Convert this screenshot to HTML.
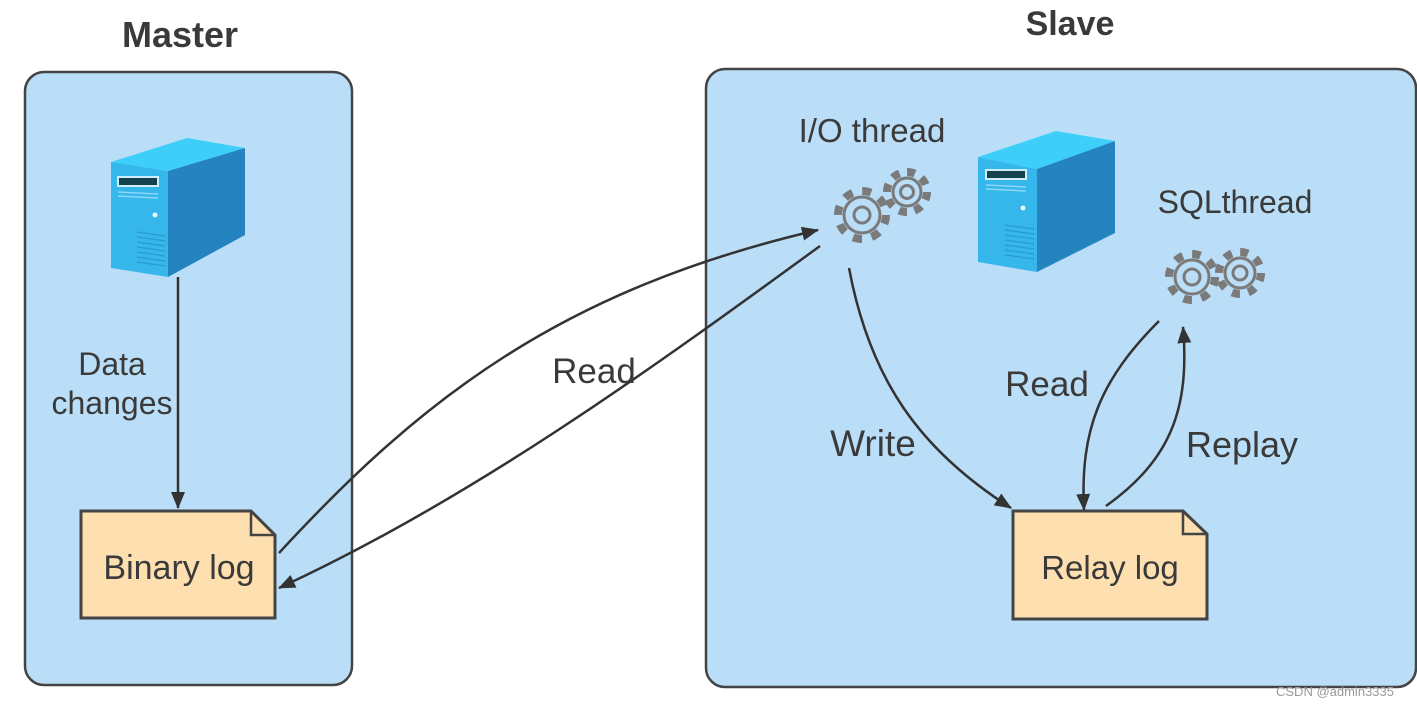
<!DOCTYPE html>
<html><head><meta charset="utf-8"><style>
html,body{margin:0;padding:0;background:#fff;}
svg{display:block;}
text{font-family:"Liberation Sans","DejaVu Sans",sans-serif;fill:#3a3a3a;}
</style></head><body>
<svg width="1417" height="706" viewBox="0 0 1417 706" xmlns="http://www.w3.org/2000/svg">
<defs>
<marker id="ahb" markerWidth="18" markerHeight="14" refX="16" refY="7" orient="auto" markerUnits="userSpaceOnUse">
<path d="M0,0 L17,7 L0,14 z" fill="#333"/>
</marker>
</defs>
<rect x="25" y="72" width="327" height="613" rx="19" fill="#badef8" stroke="#444" stroke-width="2.5"/>
<rect x="706" y="69" width="710" height="618" rx="19" fill="#badef8" stroke="#444" stroke-width="2.5"/>
<text x="180" y="47" font-size="36" font-weight="bold" text-anchor="middle" fill="#333">Master</text>
<text x="1070" y="35" font-size="34" font-weight="bold" text-anchor="middle" fill="#333">Slave</text>

<g>
<polygon points="111,162 187,138 245,148 168,171" fill="#3dcffa"/>
<polygon points="111,162 168,171 168,277 111,268" fill="#35b7ec"/>
<polygon points="168,171 245,148 245,235 168,277" fill="#2583bf"/>
<rect x="118" y="177" width="40" height="9" fill="#15424f" stroke="#cfeefc" stroke-width="2"/>
<line x1="118" y1="192" x2="158" y2="194" stroke="#8ad8f7" stroke-width="1.5"/>
<line x1="118" y1="196" x2="158" y2="198" stroke="#8ad8f7" stroke-width="1.5"/>
<circle cx="155" cy="215" r="2.5" fill="#e8f8ff"/>
<g stroke="#2a9ad0" stroke-width="1.2">
<line x1="137" y1="232" x2="165" y2="236"/><line x1="137" y1="237" x2="165" y2="241"/><line x1="137" y1="242" x2="165" y2="246"/><line x1="137" y1="247" x2="165" y2="251"/><line x1="137" y1="252" x2="165" y2="256"/><line x1="137" y1="257" x2="165" y2="261"/><line x1="137" y1="262" x2="165" y2="266"/>
</g>
</g>
<g>
<polygon points="978,157 1056,131 1115,141 1037,169" fill="#3dcffa"/>
<polygon points="978,157 1037,169 1037,272 978,262" fill="#35b7ec"/>
<polygon points="1037,169 1115,141 1115,233 1037,272" fill="#2583bf"/>
<rect x="986" y="170" width="40" height="9" fill="#15424f" stroke="#cfeefc" stroke-width="2"/>
<line x1="986" y1="185" x2="1026" y2="187" stroke="#8ad8f7" stroke-width="1.5"/>
<line x1="986" y1="189" x2="1026" y2="191" stroke="#8ad8f7" stroke-width="1.5"/>
<circle cx="1023" cy="208" r="2.5" fill="#e8f8ff"/>
<g stroke="#2a9ad0" stroke-width="1.2">
<line x1="1005" y1="225" x2="1034" y2="229"/><line x1="1005" y1="230" x2="1034" y2="234"/><line x1="1005" y1="235" x2="1034" y2="239"/><line x1="1005" y1="240" x2="1034" y2="244"/><line x1="1005" y1="245" x2="1034" y2="249"/><line x1="1005" y1="250" x2="1034" y2="254"/><line x1="1005" y1="255" x2="1034" y2="259"/>
</g>
</g>

<g fill="none" stroke="#7a7a7a">
<circle cx="862" cy="215" r="24" stroke-width="8" stroke-dasharray="9 9.85"/>
<circle cx="862" cy="215" r="18" stroke-width="3"/>
<circle cx="862" cy="215" r="8" stroke-width="3"/>
<circle cx="907" cy="192" r="20" stroke-width="8" stroke-dasharray="8 7.7"/>
<circle cx="907" cy="192" r="14" stroke-width="3"/>
<circle cx="907" cy="192" r="6.5" stroke-width="3"/>
<circle cx="1192" cy="277" r="23" stroke-width="8" stroke-dasharray="8.5 9.56"/>
<circle cx="1192" cy="277" r="17" stroke-width="3"/>
<circle cx="1192" cy="277" r="8" stroke-width="3"/>
<circle cx="1240" cy="273" r="21" stroke-width="8" stroke-dasharray="8 8.5"/>
<circle cx="1240" cy="273" r="15" stroke-width="3"/>
<circle cx="1240" cy="273" r="7" stroke-width="3"/>
</g>

<path d="M81,511 L251,511 L275,535 L275,618 L81,618 Z" fill="#fddfb0" stroke="#444" stroke-width="3"/>
<path d="M251,511 L251,535 L275,535" fill="none" stroke="#444" stroke-width="2.5"/>
<path d="M1013,511 L1183,511 L1207,534 L1207,619 L1013,619 Z" fill="#fddfb0" stroke="#444" stroke-width="3"/>
<path d="M1183,511 L1183,534 L1207,534" fill="none" stroke="#444" stroke-width="2.5"/>
<text x="179" y="579" font-size="34" text-anchor="middle">Binary log</text>
<text x="1110" y="579" font-size="33" text-anchor="middle">Relay log</text>

<g fill="none" stroke="#333" stroke-width="2.5">
<path d="M178,277 L178,508" marker-end="url(#ahb)"/>
<path d="M279,553 C420,400 560,290 818,230" marker-end="url(#ahb)"/>
<path d="M820,246 C650,370 470,500 279,588" marker-end="url(#ahb)"/>
<path d="M849,268 C870,380 920,450 1011,508" marker-end="url(#ahb)"/>
<path d="M1159,321 C1100,380 1080,430 1084,510" marker-end="url(#ahb)"/>
<path d="M1106,506 C1170,460 1190,410 1183,327" marker-end="url(#ahb)"/>
</g>

<text x="872" y="142" font-size="33" text-anchor="middle">I/O thread</text>
<text x="1235" y="213" font-size="32" text-anchor="middle">SQLthread</text>
<text x="112" y="375" font-size="32" text-anchor="middle">Data</text>
<text x="112" y="414" font-size="32" text-anchor="middle">changes</text>
<text x="594" y="383" font-size="35" text-anchor="middle">Read</text>
<text x="873" y="456" font-size="37" text-anchor="middle">Write</text>
<text x="1047" y="396" font-size="35" text-anchor="middle">Read</text>
<text x="1242" y="457" font-size="36" text-anchor="middle">Replay</text>
<text x="1335" y="696" font-size="13" text-anchor="middle" style="fill:#999">CSDN @admin3335</text>
</svg>
</body></html>
